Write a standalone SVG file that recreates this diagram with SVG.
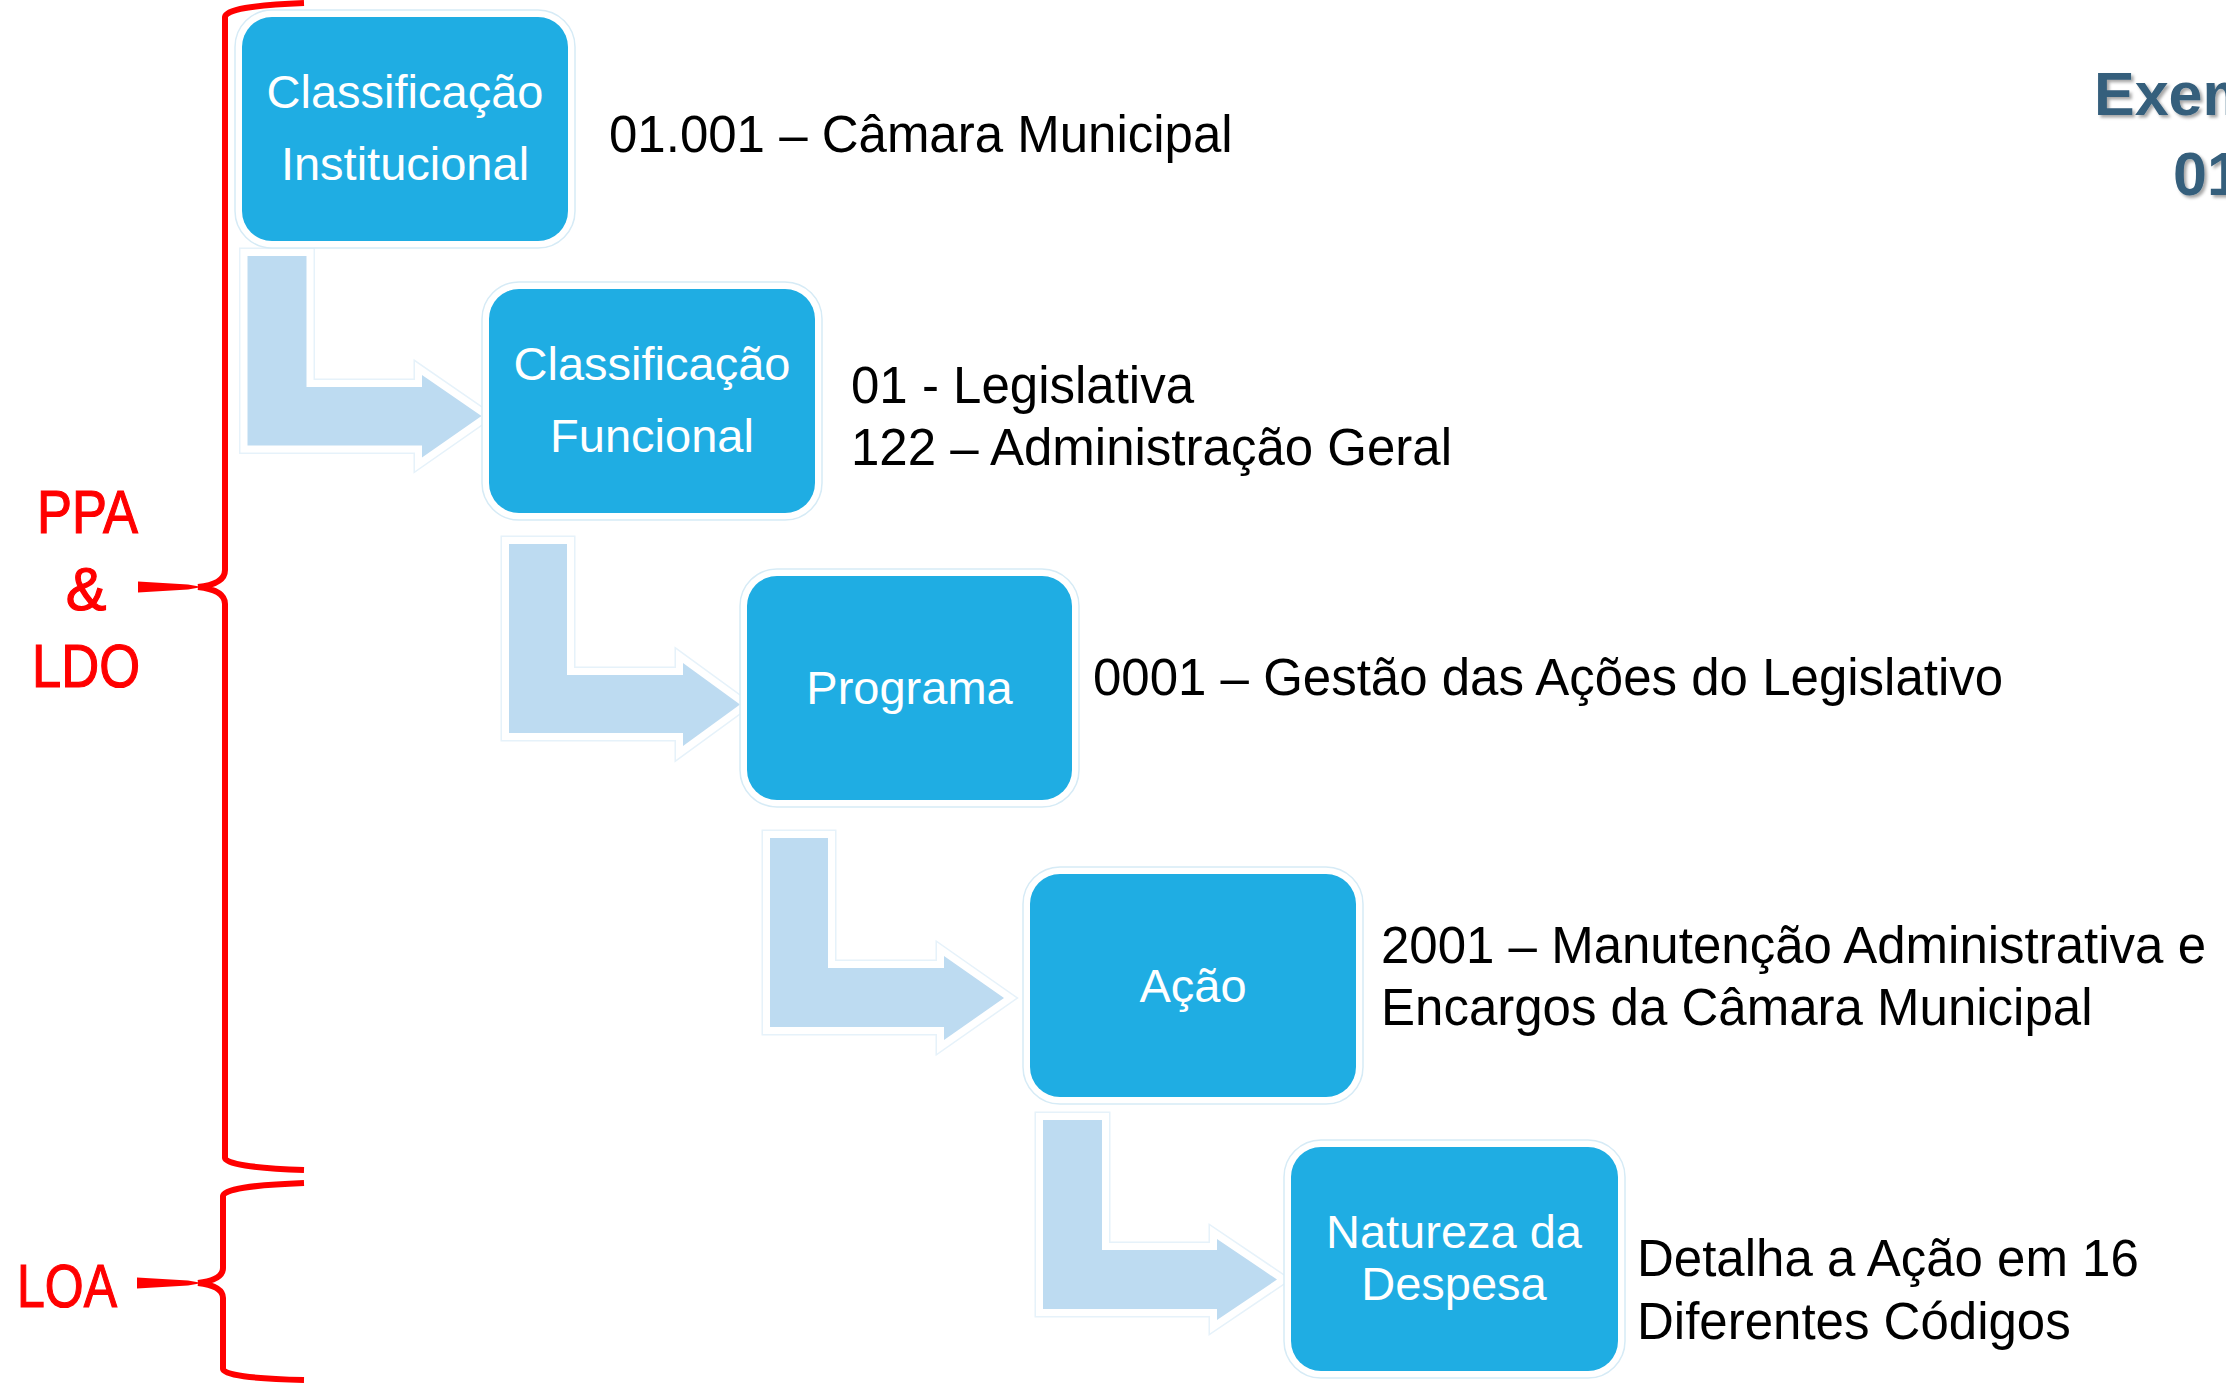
<svg xmlns="http://www.w3.org/2000/svg" width="2226" height="1384" viewBox="0 0 2226 1384">
<defs>
<style>
.ring{fill:#ffffff;stroke:#d6ebf6;stroke-width:1.5}
.box{fill:#1fade3}
.bt{font-family:"Liberation Sans",Arial,sans-serif;font-size:47px;fill:#ffffff;text-anchor:middle}
.rt{font-family:"Liberation Sans",Arial,sans-serif;font-size:51px;fill:#000000}
.lab{font-family:"Liberation Sans",Arial,sans-serif;font-size:61px;fill:#ff0000;stroke:#ff0000;stroke-width:1.2;text-anchor:middle}
.ttl{font-family:"Liberation Sans",Arial,sans-serif;font-size:61px;font-weight:bold;fill:#355e7b}
.brace{fill:none;stroke:#ff0000;stroke-width:6;stroke-linecap:butt;stroke-linejoin:round}
.aout{fill:none;stroke:#e6f2fa;stroke-width:17;stroke-linejoin:miter;stroke-miterlimit:10}
.awhite{fill:none;stroke:#ffffff;stroke-width:14;stroke-linejoin:miter;stroke-miterlimit:10}
.afill{fill:#bddbf1}
</style>
<filter id="sh" x="-10%" y="-20%" width="130%" height="150%">
<feDropShadow dx="2.5" dy="2.5" stdDeviation="1.5" flood-color="#000000" flood-opacity="0.35"/>
</filter>
<path id="a1" d="M247.5,256 H306.5 V387 H422 V375 L481.5,416 L422,457.5 V445.5 H247.5 Z"/>
<path id="a2" d="M509,544 H567 V675 H683 V663 L740,704.5 L683,746 V733 H509 Z"/>
<path id="a3" d="M770,838 H828 V968 H944 V956 L1004,998 L944,1040 V1027 H770 Z"/>
<path id="a4" d="M1043,1120 H1102 V1250 H1217 V1239 L1277,1279.5 L1217,1320 V1309 H1043 Z"/>
</defs>
<rect x="0" y="0" width="2226" height="1384" fill="#ffffff"/>

<g id="connectors">
<use href="#a1" class="aout"/><use href="#a1" class="awhite"/><use href="#a1" class="afill"/>
<use href="#a2" class="aout"/><use href="#a2" class="awhite"/><use href="#a2" class="afill"/>
<use href="#a3" class="aout"/><use href="#a3" class="awhite"/><use href="#a3" class="afill"/>
<use href="#a4" class="aout"/><use href="#a4" class="awhite"/><use href="#a4" class="afill"/>
</g>

<g id="node-institucional">
<rect class="ring" x="235" y="10" width="340" height="238" rx="37"/>
<rect class="box" x="242" y="17" width="326" height="224" rx="30"/>
<text class="bt" x="405" y="108">Classificação</text>
<text class="bt" x="405" y="180">Institucional</text>
</g>

<g id="node-funcional">
<rect class="ring" x="482" y="282" width="340" height="238" rx="37"/>
<rect class="box" x="489" y="289" width="326" height="224" rx="30"/>
<text class="bt" x="652" y="379.5">Classificação</text>
<text class="bt" x="652" y="451.5">Funcional</text>
</g>

<g id="node-programa">
<rect class="ring" x="740" y="569" width="339" height="238" rx="37"/>
<rect class="box" x="747" y="576" width="325" height="224" rx="30"/>
<text class="bt" x="909.5" y="704">Programa</text>
</g>

<g id="node-acao">
<rect class="ring" x="1023" y="867" width="340" height="237" rx="37"/>
<rect class="box" x="1030" y="874" width="326" height="223" rx="30"/>
<text class="bt" x="1193" y="1001.5">Ação</text>
</g>

<g id="node-natureza">
<rect class="ring" x="1284" y="1140" width="341" height="238" rx="37"/>
<rect class="box" x="1291" y="1147" width="327" height="224" rx="30"/>
<text class="bt" x="1454" y="1248">Natureza da</text>
<text class="bt" x="1454" y="1300">Despesa</text>
</g>

<g id="descriptions">
<text class="rt" x="609" y="152">01.001 – Câmara Municipal</text>
<text class="rt" x="851" y="403">01 - Legislativa</text>
<text class="rt" x="851" y="465">122 – Administração Geral</text>
<text class="rt" x="1093" y="695">0001 – Gestão das Ações do Legislativo</text>
<text class="rt" x="1381" y="963">2001 – Manutenção Administrativa e</text>
<text class="rt" x="1381" y="1025">Encargos da Câmara Municipal</text>
<text class="rt" x="1637" y="1276">Detalha a Ação em 16</text>
<text class="rt" x="1637" y="1339">Diferentes Códigos</text>
</g>

<g id="brace-ppa-ldo">
<path class="brace" d="M304,3 Q226,6 225,17 L225,570 Q225,584 198,587 M198,587 Q225,590 225,604 L225,1158 Q226,1167 304,1170"/>
<path d="M138,581.5 L188,584.5 L202,587 L188,589.5 L138,592.5 Z" fill="#ff0000"/>
<text class="lab" x="87.5" y="533" textLength="101" lengthAdjust="spacingAndGlyphs">PPA</text>
<text class="lab" x="86" y="610">&amp;</text>
<text class="lab" x="86" y="687" textLength="108" lengthAdjust="spacingAndGlyphs">LDO</text>
</g>

<g id="brace-loa">
<path class="brace" d="M304,1183 Q224,1186 223,1196 L223,1268 Q223,1280 198,1283 M198,1283 Q223,1286 223,1298 L223,1369 Q224,1378 304,1380"/>
<path d="M137,1277.5 L188,1280.5 L202,1283 L188,1285.5 L137,1288.5 Z" fill="#ff0000"/>
<text class="lab" x="67" y="1307" textLength="100" lengthAdjust="spacingAndGlyphs">LOA</text>
</g>

<g id="title" filter="url(#sh)">
<text class="ttl" x="2094" y="115">Exem</text>
<text class="ttl" x="2173" y="195">01</text>
</g>
</svg>
